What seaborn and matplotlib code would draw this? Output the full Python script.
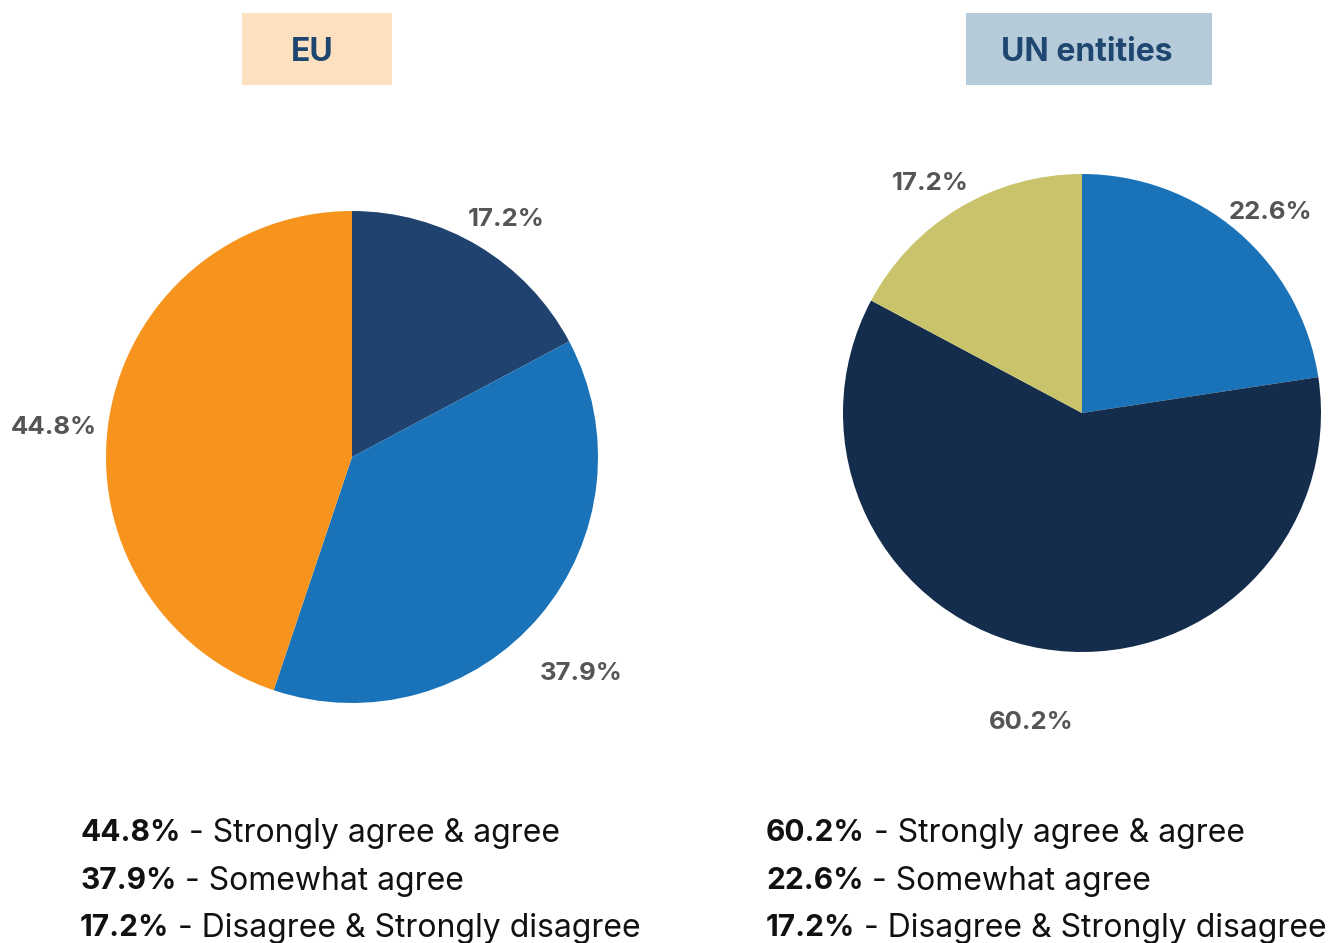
import matplotlib
matplotlib.use("Agg")
import matplotlib.pyplot as plt
import seaborn as sns
import numpy as np

sns.set_theme(style="white")
plt.rcParams['font.family'] = ['Inter', 'DejaVu Sans']

# ---- data ----
eu_titles = "EU"
un_titles = "UN entities"
eu_values = [17.2, 37.9, 44.8]
eu_labels = ["17.2%", "37.9%", "44.8%"]
un_values = [22.6, 60.2, 17.2]
un_labels = ["22.6%", "60.2%", "17.2%"]
eu_legend_pcts = ["44.8%", "37.9%", "17.2%"]
un_legend_pcts = ["60.2%", "22.6%", "17.2%"]
legend_texts = ["Strongly agree & agree", "Somewhat agree", "Disagree & Strongly disagree"]

# ---- styles ----
eu_colors = ["#1f426e", "#1a73b8", "#f7941d"]
un_colors = ["#1a73b8", "#142d4c", "#c9c46c"]
eu_label_dist = [1.16, 1.275, 1.22]
eu_label_dang = [-1.8, -2.8, 3.1]
un_label_dist = [1.16, 1.30, 1.16]
un_label_dang = [-2.1, 0.3, 2.3]

W, H = 1331, 943
fig = plt.figure(figsize=(W / 100, H / 100), dpi=100)


def add_pie(cx, cy, r, values, labels, colors, dists, dangs):
    ax = fig.add_axes([(cx - r) / W, (H - cy - r) / H, 2 * r / W, 2 * r / H])
    wedges, _ = ax.pie(values, colors=colors, startangle=90, counterclock=False,
                       radius=1, wedgeprops=dict(linewidth=0))
    for w, lab, d, da in zip(wedges, labels, dists, dangs):
        ang = np.deg2rad((w.theta1 + w.theta2) / 2 + da)
        ax.text(d * np.cos(ang), d * np.sin(ang), lab, ha="center", va="center_baseline",
                fontsize=18.5, fontweight="bold", color="#555555", clip_on=False)
    ax.set_xlim(-1, 1)
    ax.set_ylim(-1, 1)
    ax.set_aspect("equal")
    ax.axis("off")
    return ax


add_pie(352, 457, 246, eu_values, eu_labels, eu_colors, eu_label_dist, eu_label_dang)
add_pie(1082, 413, 239, un_values, un_labels, un_colors, un_label_dist, un_label_dang)

# title boxes
def title_box(x0, x1, y0, y1, tx, text, face):
    fig.patches.append(plt.Rectangle((x0 / W, 1 - y1 / H), (x1 - x0) / W, (y1 - y0) / H,
                                     transform=fig.transFigure, facecolor=face,
                                     edgecolor="none", zorder=0))
    fig.text(tx / W, 1 - 49 / H, text, ha="center", va="center_baseline",
             fontsize=23, fontweight="bold", color="#1f4670")

title_box(242, 392, 13, 85, 312.5, eu_titles, "#fce0c0")
title_box(966, 1212, 13, 85, 1086.5, un_titles, "#b6cbd9")

# bottom legend text
fig.canvas.draw()
renderer = fig.canvas.get_renderer()
rows_y = [830, 878, 925]

def legend_block(x0, pcts):
    for pct, txt, y in zip(pcts, legend_texts, rows_y):
        t = fig.text(x0 / W, 1 - y / H, pct, ha="left", va="center_baseline",
                     fontsize=21.5, fontweight="bold", color="#111111")
        bb = t.get_window_extent(renderer=renderer)
        fig.text(bb.x1 / W, 1 - y / H, " - " + txt, ha="left", va="center_baseline",
                 fontsize=23, color="#111111")

legend_block(80, eu_legend_pcts)
legend_block(766, un_legend_pcts)

fig.savefig("out.png", dpi=100, facecolor="white")
